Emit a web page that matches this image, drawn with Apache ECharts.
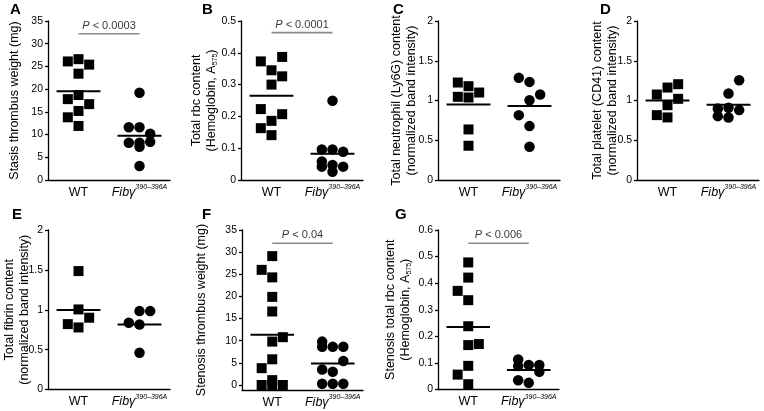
<!DOCTYPE html>
<html><head><meta charset="utf-8">
<script src="https://cdn.jsdelivr.net/npm/echarts@6/dist/echarts.min.js"></script>
<style>html,body{margin:0;padding:0;background:#fff}#c{width:764px;height:411px}</style>
</head><body><div id="c"></div>
<script>
// ---------- data ----------
const groupLabels = ['WT', 'Fibγ'];
const mutantSup = '390–396A';
const groupX = [1, 3];               // category centres on a 0..4 axis
const panelLetters = ['A', 'B', 'C', 'D', 'E', 'F', 'G'];

// A – stasis thrombus weight
const aTicks = [0, 5, 10, 15, 20, 25, 30, 35];
const aWT = [26.1, 26.6, 25.4, 23.4, 17.8, 18.7, 16.7, 15.2, 13.8, 11.9];
const aWTCol = [-1, 0, 1, 0, -1, 0, 1, 0, -1, 0];
const aFib = [19.2, 11.6, 11.6, 10.2, 8.2, 8.2, 8.4, 7.3, 3.1];
const aFibCol = [0, -1, 0, 1, -1, 0, 1, 0, 0];
const aP = 32.2, aPText = '0.0003';

// B – total rbc content
const bTicks = [0, 0.1, 0.2, 0.3, 0.4, 0.5];
const bWT = [0.373, 0.387, 0.345, 0.326, 0.300, 0.223, 0.207, 0.186, 0.163, 0.141];
const bWTCol = [-1, 1, 0, 1, 0, -1, 1, 0, -1, 0];
const bFib = [0.249, 0.096, 0.096, 0.089, 0.058, 0.042, 0.047, 0.042, 0.026];
const bFibCol = [0, -1, 0, 1, -1, -1, 0, 1, 0];
const bP = 0.4636, bPText = '0.0001';

// C – neutrophil content
const cTicks = [0, 0.5, 1, 1.5, 2];
const cWT = [1.226, 1.180, 1.100, 1.046, 1.038, 0.636, 0.431];
const cWTCol = [-1, 0, 1, -1, 0, 0, 0];
const cFib = [1.285, 1.234, 1.075, 1.004, 0.816, 0.678, 0.418];
const cFibCol = [-1, 0, 1, 0, -1, 0, 0];

// D – platelet content
const dTicks = [0, 0.5, 1, 1.5, 2];
const dWT = [1.205, 1.163, 1.075, 1.021, 0.941, 0.816, 0.787];
const dWTCol = [1, 0, -1, 1, 0, -1, 0];
const dFib = [1.255, 1.088, 0.879, 0.900, 0.908, 0.803, 0.787];
const dFibCol = [1, 0, 1, -1, 0, -1, 0];

// E – fibrin content
const eTicks = [0, 0.5, 1, 1.5, 2];
const eWT = [1.485, 1.004, 0.900, 0.820, 0.778];
const eWTCol = [0, 0, 1, -1, 0];
const eFib = [0.983, 0.983, 0.837, 0.816, 0.460];
const eFibCol = [0, 1, -1, 0, 0];

// F – stenosis thrombus weight
const fTicks = [0, 5, 10, 15, 20, 25, 30, 35];
const fWT = [29.1, 26.0, 24.3, 19.9, 16.6, 10.8, 9.8, 5.8, 3.8, 1.1, 0, 0, 0];
const fWTCol = [0, -1, 0, 0, 0, 1, 0, 0, -1, 0, -1, 0, 1];
const fFib = [9.8, 8.65, 8.65, 8.65, 5.4, 3.5, 3.0, 0.3, 0.3, 0.3];
const fFibCol = [-1, -1, 0, 1, 1, -1, 0, -1, 0, 1];
const fP = 32.0, fPText = '0.04';

// G – stenosis total rbc content
const gTicks = [0, 0.1, 0.2, 0.3, 0.4, 0.5, 0.6];
const gWT = [0.478, 0.421, 0.371, 0.336, 0.238, 0.167, 0.171, 0.089, 0.056, 0.020];
const gWTCol = [0, 0, -1, 0, 0, 0, 1, 0, -1, 0];
const gFib = [0.113, 0.092, 0.092, 0.088, 0.067, 0.035, 0.025];
const gFibCol = [-1, 0, 1, -1, 1, -1, 0];
const gP = 0.55, gPText = '0.006';

// ---------- layout / style ----------
const FONT = '"Liberation Sans", Arial, Helvetica, sans-serif';
const JIT = 0.35, MEAN_HALF = 0.72;
const panels = [
  {ticks: aTicks, yMin: 0, wt: aWT, wtCol: aWTCol, fib: aFib, fibCol: aFibCol, p: aP, pText: aPText,
   title: 'Stasis thrombus weight (mg)', box: {left: 48, top: 21, width: 122, height: 159}, gap: 26, letter: [10, 2]},
  {ticks: bTicks, yMin: 0, wt: bWT, wtCol: bWTCol, fib: bFib, fibCol: bFibCol, p: bP, pText: bPText,
   title: 'Total rbc content\n(Hemoglobin, A{sub|575})', box: {left: 241, top: 21, width: 122, height: 159}, gap: 22, letter: [202, 2]},
  {ticks: cTicks, yMin: 0, wt: cWT, wtCol: cWTCol, fib: cFib, fibCol: cFibCol,
   title: 'Total neutrophil (Ly6G) content\n(normalized band intensity)', box: {left: 438, top: 21, width: 122, height: 159}, gap: 19, letter: [393, 2]},
  {ticks: dTicks, yMin: 0, wt: dWT, wtCol: dWTCol, fib: dFib, fibCol: dFibCol,
   title: 'Total platelet (CD41) content\n(normalized band intensity)', box: {left: 637, top: 21, width: 122, height: 159}, gap: 17, letter: [600, 2]},
  {ticks: eTicks, yMin: 0, wt: eWT, wtCol: eWTCol, fib: eFib, fibCol: eFibCol,
   title: 'Total fibrin content\n(normalized band intensity)', box: {left: 48, top: 230, width: 122, height: 159.5}, gap: 16, letter: [12, 207]},
  {ticks: fTicks, yMin: -1.13, wt: fWT, wtCol: fWTCol, fib: fFib, fibCol: fFibCol, p: fP, pText: fPText,
   title: 'Stenosis thrombus weight (mg)', box: {left: 242, top: 230, width: 121, height: 160}, gap: 33, letter: [202, 207]},
  {ticks: gTicks, yMin: 0, wt: gWT, wtCol: gWTCol, fib: gFib, fibCol: gFibCol, p: gP, pText: gPText,
   title: 'Stenosis total rbc content\n(Hemoglobin, A{sub|575})', box: {left: 438, top: 230, width: 121, height: 159.5}, gap: 25, letter: [395, 207]}
];

const mean = a => a.reduce((s, v) => s + v, 0) / a.length;
const axisLine = {color: '#000', width: 1.3};
const grids = [], xAxes = [], yAxes = [], series = [], titles = [];

panels.forEach((p, i) => {
  grids.push(Object.assign({outerBoundsMode: 'none', containLabel: false}, p.box));
  xAxes.push({
    type: 'value', gridIndex: i, min: 0, max: 4,
    axisLine: {show: true, onZero: false, lineStyle: axisLine},
    axisTick: {show: false}, splitLine: {show: false},
    axisLabel: {
      customValues: groupX, margin: 4, color: '#000', fontFamily: FONT, fontSize: 12.5,
      formatter: v => v === groupX[0] ? '{w|' + groupLabels[0] + '}' : '{it|' + groupLabels[1] + '}{sup|' + mutantSup + '}',
      rich: {
        w: {fontSize: 12.5, fontFamily: FONT, color: '#000', verticalAlign: 'top', padding: [2, 0, 0, 0]},
        it: {fontSize: 12.5, fontFamily: FONT, color: '#000', fontStyle: 'italic', verticalAlign: 'top', padding: [2, 0, 0, 0]},
        sup: {fontSize: 7, fontFamily: FONT, color: '#000', fontStyle: 'italic', verticalAlign: 'top'}
      }
    }
  });
  yAxes.push({
    type: 'value', gridIndex: i, min: p.yMin, max: p.ticks[p.ticks.length - 1],
    axisLine: {show: true, onZero: false, lineStyle: axisLine},
    axisTick: {show: true, length: 3, customValues: p.ticks, lineStyle: axisLine},
    axisLabel: {customValues: p.ticks, margin: 5, color: '#000', fontFamily: FONT, fontSize: 10.5},
    splitLine: {show: false},
    name: p.title, nameLocation: 'middle', nameRotate: 90, nameGap: p.gap, nameMoveOverlap: false,
    nameTextStyle: {color: '#000', fontFamily: FONT, fontSize: 12.5, lineHeight: 15,
      rich: {sub: {fontSize: 7, fontFamily: FONT, color: '#000', verticalAlign: 'bottom'}}}
  });
  titles.push({text: panelLetters[i], left: p.letter[0], top: p.letter[1], padding: 0,
    textStyle: {fontFamily: FONT, fontSize: 15, fontWeight: 'bold', color: '#000'}});

  const base = {xAxisIndex: i, yAxisIndex: i, silent: true, animation: false};
  series.push(Object.assign({type: 'scatter', symbol: 'rect', symbolSize: 10, itemStyle: {color: '#000', opacity: 1},
    data: p.wt.map((v, k) => [groupX[0] + p.wtCol[k] * JIT, v])}, base));
  series.push(Object.assign({type: 'scatter', symbol: 'circle', symbolSize: 10.5, itemStyle: {color: '#000', opacity: 1},
    data: p.fib.map((v, k) => [groupX[1] + p.fibCol[k] * JIT, v])}, base));
  [p.wt, p.fib].forEach((vals, g) => {
    const m = mean(vals);
    series.push(Object.assign({type: 'line', symbol: 'none', z: 5, lineStyle: {color: '#000', width: 2},
      data: [[groupX[g] - MEAN_HALF, m], [groupX[g] + MEAN_HALF, m]]}, base));
  });
  if (p.p !== undefined) {
    series.push(Object.assign({type: 'line', symbol: 'none', lineStyle: {color: '#8a8a8a', width: 1.6},
      data: [[groupX[0], p.p], [groupX[1], p.p]]}, base));
    series.push(Object.assign({type: 'scatter', symbolSize: 1, itemStyle: {color: 'rgba(0,0,0,0)'},
      data: [[(groupX[0] + groupX[1]) / 2, p.p]],
      label: {show: true, position: 'top', distance: 2, color: '#000', fontFamily: FONT, fontSize: 11,
        formatter: '{pi|P} < ' + p.pText,
        rich: {pi: {fontStyle: 'italic', fontSize: 11, fontFamily: FONT, color: '#000'}}}}, base));
  }
});

const chart = echarts.init(document.getElementById('c'), null, {renderer: 'canvas'});
chart.setOption({
  animation: false, backgroundColor: '#fff',
  title: titles, grid: grids, xAxis: xAxes, yAxis: yAxes, series: series
});
</script></body></html>
